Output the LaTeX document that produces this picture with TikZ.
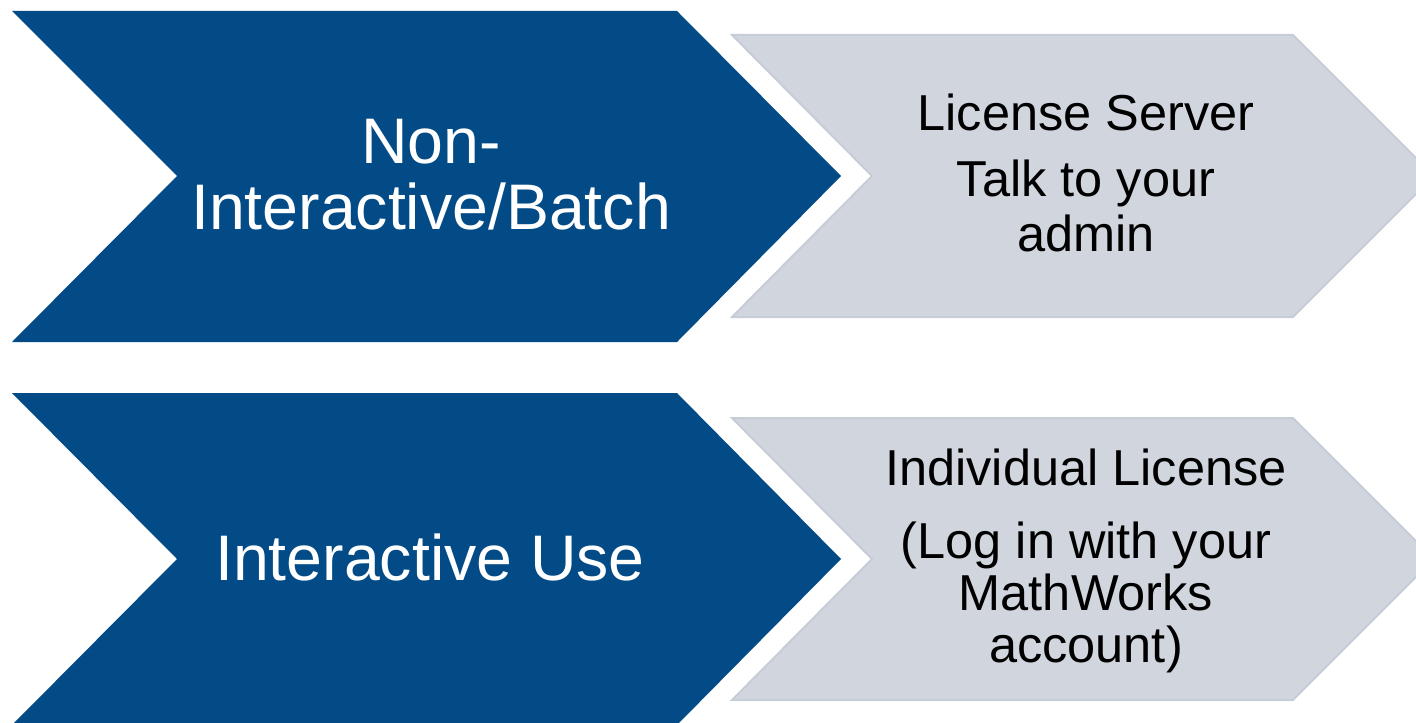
\documentclass[tikz,border=0pt]{standalone}
\usepackage{fontspec}
\setmainfont{Liberation Sans}
\definecolor{mwblue}{RGB}{3,75,135}
\definecolor{mwgrey}{RGB}{208,213,222}
\definecolor{mwgreyline}{RGB}{199,205,215}

\begin{document}
\begin{tikzpicture}[x=0.5pt,y=-0.5pt,
  bluechev/.style={fill=mwblue},
  greychev/.style={fill=mwgrey,draw=mwgreyline,line width=1pt},
  bluetext/.style={text=white,align=center,inner sep=0pt,anchor=base,font=\fontsize{32.2}{33}\selectfont},
  greytext/.style={text=black,align=center,inner sep=0pt,anchor=base,font=\fontsize{25.25}{27.5}\selectfont}]
\useasboundingbox (0,0) rectangle (1416,722);
\clip (0,0) rectangle (1416,722);
% top row
\fill [bluechev] (12,11) -- (677,11) -- (841,176) -- (677,342) -- (12,342) -- (177,176) -- cycle;
\draw [greychev] (732,35) -- (1293,35) -- (1434,176) -- (1293,317) -- (732,317) -- (872,176) -- cycle;
\node [bluetext] (nonbatch) at (431,229) {Non-\\Interactive/Batch};
\node [greytext] (srvtext) at (1086,251) {License Server\\[5.5pt]Talk to your\\admin};
% bottom row
\fill [bluechev] (12,393) -- (677,393) -- (841,559) -- (677,725) -- (12,725) -- (177,559) -- cycle;
\draw [greychev] (732,418) -- (1293,418) -- (1434,559) -- (1293,700) -- (732,700) -- (872,559) -- cycle;
\node [bluetext] (interuse) at (430,580) {Interactive Use};
\node [greytext,font=\fontsize{25.25}{26}\selectfont] (indtext) at (1086,662) {Individual License\\[10.5pt](Log in with your\\MathWorks\\account)};
\end{tikzpicture}
\end{document}
